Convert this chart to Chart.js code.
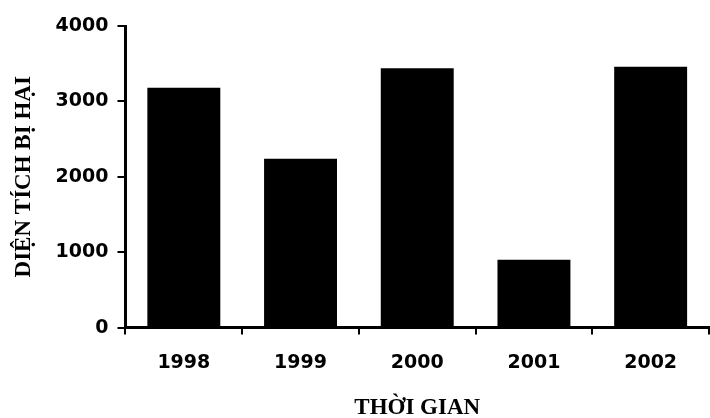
<!DOCTYPE html>
<html>
<head>
<meta charset="utf-8">
<script src="https://cdn.jsdelivr.net/npm/chart.js@4"></script>
<style>
  html, body { margin: 0; padding: 0; background: #fff; }
  #wrap { width: 710px; height: 418px; }
</style>
</head>
<body>
<div id="wrap"><canvas id="chart" width="710" height="418"></canvas></div>
<script>
const years = ['1998', '1999', '2000', '2001', '2002'];
const damagedArea = [3180, 2240, 3440, 900, 3460];
const yTicks = [0, 1000, 2000, 3000, 4000];

const tickFont = { family: 'DejaVu Sans', size: 19, weight: 'bold' };
const titleFont = { family: 'Liberation Serif', size: 23, weight: 'bold' };

new Chart(document.getElementById('chart'), {
  type: 'bar',
  data: {
    labels: years,
    datasets: [{
      data: damagedArea,
      backgroundColor: '#000',
      borderWidth: 0,
      categoryPercentage: 1,
      barPercentage: 0.625
    }]
  },
  options: {
    responsive: false,
    animation: false,
    layout: { padding: { top: 26, right: 1, left: 10, bottom: -4 } },
    plugins: { legend: { display: false }, tooltip: { enabled: false } },
    scales: {
      x: {
        grid: { drawOnChartArea: false, offset: true, tickLength: 7, color: '#000', lineWidth: 2 },
        border: { color: '#000', width: 3 },
        ticks: { color: '#000', font: tickFont, padding: 17 },
        title: { display: true, text: 'THỜI GIAN', color: '#000', font: titleFont, padding: { top: 3, bottom: 0 } }
      },
      y: {
        min: 0,
        max: 4000,
        afterBuildTicks: axis => { axis.ticks = yTicks.map(v => ({ value: v })); },
        grid: { drawOnChartArea: false, tickLength: 8, color: '#000', lineWidth: 2 },
        border: { color: '#000', width: 3 },
        ticks: { color: '#000', font: tickFont, padding: 9, callback: v => String(v) },
        title: { display: true, text: 'DIỆN TÍCH BỊ HẠI', color: '#000', font: titleFont, padding: { top: 0, bottom: 9 } }
      }
    }
  }
});
</script>
</body>
</html>
